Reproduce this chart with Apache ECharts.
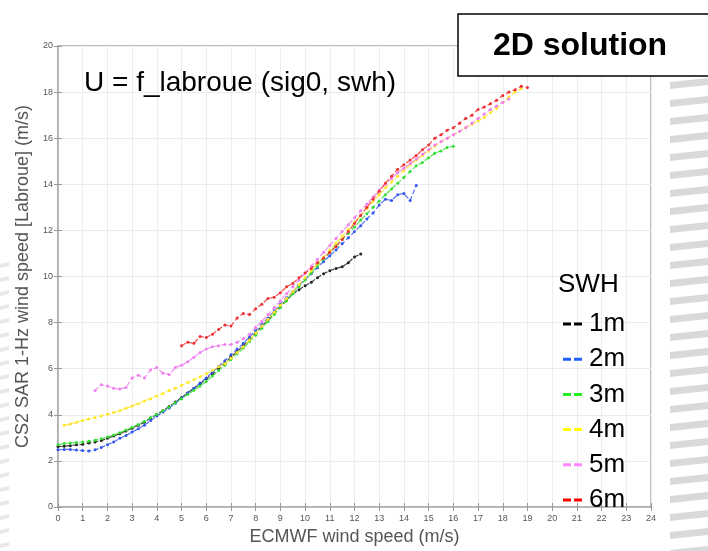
<!DOCTYPE html>
<html>
<head>
<meta charset="utf-8">
<script src="https://cdn.jsdelivr.net/npm/echarts@6/dist/echarts.min.js"></script>
<style>
  html, body { margin: 0; padding: 0; background: #fff; }
  #chart { width: 708px; height: 551px; }
</style>
</head>
<body>
<div id="chart"></div>
<script>
// ECMWF wind speed bins (m/s), 0.25 m/s apart
const ecmwfBins = [
  0, 0.25, 0.5, 0.75, 1, 1.25, 1.5, 1.75, 2, 2.25,
  2.5, 2.75, 3, 3.25, 3.5, 3.75, 4, 4.25, 4.5, 4.75,
  5, 5.25, 5.5, 5.75, 6, 6.25, 6.5, 6.75, 7, 7.25,
  7.5, 7.75, 8, 8.25, 8.5, 8.75, 9, 9.25, 9.5, 9.75,
  10, 10.25, 10.5, 10.75, 11, 11.25, 11.5, 11.75, 12, 12.25,
  12.5, 12.75, 13, 13.25, 13.5, 13.75, 14, 14.25, 14.5, 14.75,
  15, 15.25, 15.5, 15.75, 16, 16.25, 16.5, 16.75, 17, 17.25,
  17.5, 17.75, 18, 18.25, 18.5, 18.75, 19
];

const swhLabels = ['1m', '2m', '3m', '4m', '5m', '6m'];

// CS2 SAR 1-Hz wind speed [Labroue] per bin, one list per SWH class (null = empty bin)
const swh1m = [
  2.62, 2.64, 2.66, 2.70, 2.72, 2.78, 2.82, 2.88, 2.98, 3.08,
  3.18, 3.30, 3.42, 3.55, 3.68, 3.86, 4.02, 4.18, 4.36, 4.55,
  4.75, 4.95, 5.15, 5.35, 5.56, 5.78, 6.00, 6.25, 6.50, 6.75,
  7.00, 7.28, 7.55, 7.85, 8.12, 8.40, 8.70, 8.98, 9.25, 9.42,
  9.60, 9.75, 9.95, 10.12, 10.25, 10.35, 10.42, 10.60, 10.85, 10.98
];
const swh2m = [
  2.48, 2.50, 2.50, 2.47, 2.45, 2.43, 2.48, 2.58, 2.70, 2.82,
  2.98, 3.10, 3.25, 3.40, 3.55, 3.75, 3.95, 4.12, 4.30, 4.50,
  4.72, 4.95, 5.15, 5.38, 5.60, 5.85, 6.10, 6.35, 6.60, 6.85,
  7.10, 7.38, 7.65, 7.92, 8.20, 8.50, 8.80, 9.08, 9.35, 9.62,
  9.88, 10.12, 10.38, 10.65, 10.90, 11.15, 11.42, 11.68, 11.95, 12.20,
  12.50, 12.75, 13.10, 13.35, 13.30, 13.55, 13.60, 13.30, 13.95
];
const swh3m = [
  2.70, 2.75, 2.78, 2.80, 2.82, 2.85, 2.90, 2.96, 3.04, 3.12,
  3.22, 3.34, 3.46, 3.58, 3.72, 3.88, 4.02, 4.18, 4.34, 4.52,
  4.70, 4.88, 5.06, 5.25, 5.45, 5.68, 5.92, 6.15, 6.40, 6.65,
  6.90, 7.18, 7.45, 7.75, 8.05, 8.35, 8.65, 8.95, 9.25, 9.55,
  9.85, 10.15, 10.45, 10.75, 11.05, 11.32, 11.60, 11.88, 12.15, 12.45,
  12.72, 13.00, 13.28, 13.55, 13.80, 14.05, 14.30, 14.55, 14.80, 14.95,
  15.15, 15.35, 15.45, 15.60, 15.65
];
const swh4m = [
  null, 3.55, 3.60, 3.68, 3.75, 3.82, 3.88, 3.95, 4.02, 4.10,
  4.18, 4.28, 4.38, 4.48, 4.60, 4.70, 4.82, 4.92, 5.05, 5.15,
  5.28, 5.40, 5.52, 5.65, 5.78, 5.92, 6.08, 6.22, 6.45, 6.70,
  6.95, 7.25, 7.55, 7.85, 8.15, 8.45, 8.75, 9.05, 9.35, 9.65,
  9.95, 10.25, 10.55, 10.85, 11.15, 11.45, 11.75, 12.05, 12.35, 12.65,
  12.95, 13.25, 13.55, 13.85, 14.10, 14.35, 14.60, 14.85, 15.05, 15.25,
  15.45, 15.65, 15.85, 16.00, 16.15, 16.30, 16.45, 16.60, 16.75, 16.90,
  17.10, 17.30, 17.55, 17.80, 18.00, 18.15
];
const swh5m = [
  null, null, null, null, null, null, 5.05, 5.30, 5.25, 5.15,
  5.12, 5.18, 5.60, 5.72, 5.60, 5.95, 6.05, 5.80, 5.75, 6.05,
  6.15, 6.30, 6.50, 6.70, 6.85, 6.95, 7.00, 7.05, 7.05, 7.15,
  7.30, 7.50, 7.80, 8.05, 8.35, 8.65, 8.95, 9.25, 9.55, 9.85,
  10.15, 10.45, 10.75, 11.05, 11.35, 11.65, 11.95, 12.25, 12.55, 12.85,
  13.15, 13.45, 13.75, 14.00, 14.25, 14.50, 14.70, 14.90, 15.10, 15.30,
  15.50, 15.70, 15.85, 16.00, 16.15, 16.30, 16.45, 16.65, 16.85, 17.05,
  17.25, 17.40, 17.55, 17.70
];
const swh6m = [
  null, null, null, null, null, null, null, null, null, null,
  null, null, null, null, null, null, null, null, null, null,
  7.00, 7.15, 7.10, 7.40, 7.35, 7.50, 7.70, 7.90, 7.85, 8.20,
  8.40, 8.35, 8.60, 8.80, 9.05, 9.10, 9.30, 9.55, 9.70, 9.95,
  10.15, 10.35, 10.60, 10.80, 11.05, 11.30, 11.60, 11.95, 12.30, 12.65,
  13.00, 13.35, 13.70, 14.05, 14.35, 14.65, 14.85, 15.05, 15.25, 15.50,
  15.70, 16.00, 16.15, 16.35, 16.45, 16.65, 16.85, 17.00, 17.25, 17.35,
  17.50, 17.65, 17.85, 18.00, 18.10, 18.25, 18.20
];

const swhSeries = [swh1m, swh2m, swh3m, swh4m, swh5m, swh6m];
const markColors = ['#222222', '#3355ee', '#33dd33', '#ffe62a', '#f07ef0', '#ee3030'];
const keyColors  = ['#000000', '#1f5fff', '#22ee22', '#ffff00', '#ff88ff', '#ff0000'];

const FONT = '"Liberation Sans", Arial, Helvetica, sans-serif';

function pairs(values) {
  const out = [];
  values.forEach((v, i) => { if (v !== null) out.push([ecmwfBins[i], v]); });
  return out;
}

// slanted grey bands of the slide background at both edges
const bands = [];
for (let y = 78; y < 560; y += 18) {
  bands.push({
    type: 'polygon', silent: true, z: 0,
    shape: { points: [[670, y + 4], [708, y], [708, y + 7], [670, y + 11]] },
    style: { fill: '#d9d9d9' }
  });
}
for (let y = 262; y < 560; y += 14) {
  bands.push({
    type: 'polygon', silent: true, z: 0,
    shape: { points: [[0, y + 2], [9, y], [9, y + 4], [0, y + 6]] },
    style: { fill: '#e8e8e8' }
  });
}

const chart = echarts.init(document.getElementById('chart'), null, { renderer: 'canvas' });

const tickStyle = { show: true, inside: true, length: 4, lineStyle: { color: '#999' } };

const seriesList = swhLabels.map((name, k) => ({
  name: name,
  type: 'line',
  data: pairs(swhSeries[k]),
  symbol: 'circle',
  symbolSize: 3,
  showSymbol: true,
  z: 3 + k,
  itemStyle: { color: markColors[k] },
  lineStyle: { color: markColors[k], width: 1.2, type: 'dashed', opacity: 0.85 },
  emphasis: { disabled: true }
}));

chart.setOption({
  animation: false,
  backgroundColor: '#ffffff',
  textStyle: { fontFamily: FONT },
  grid: {
    left: 58, right: 57, top: 46, bottom: 37,
    show: true, backgroundColor: '#ffffff', borderColor: '#aaaaaa', borderWidth: 1.5
  },
  xAxis: [{
    type: 'value', min: 0, max: 24, interval: 1,
    name: 'ECMWF wind speed (m/s)', nameLocation: 'middle', nameGap: 21,
    nameTextStyle: { fontSize: 18, color: '#555', fontFamily: FONT },
    axisLine: { lineStyle: { color: '#aaaaaa', width: 1.5 } },
    axisTick: tickStyle,
    axisLabel: { fontSize: 9, color: '#555', margin: 7 },
    splitLine: { show: true, lineStyle: { color: '#ececec', width: 1 } }
  }, {
    type: 'value', min: 0, max: 24, interval: 1, position: 'top',
    axisLine: { show: false }, axisTick: tickStyle,
    axisLabel: { show: false }, splitLine: { show: false }
  }],
  yAxis: [{
    type: 'value', min: 0, max: 20, interval: 2,
    name: 'CS2 SAR 1-Hz wind speed [Labroue] (m/s)', nameLocation: 'middle', nameGap: 23,
    nameTextStyle: { fontSize: 18, color: '#555', fontFamily: FONT },
    axisLine: { show: true, lineStyle: { color: '#aaaaaa', width: 1.5 } },
    axisTick: tickStyle,
    axisLabel: { fontSize: 9, color: '#555', margin: 5 },
    splitLine: { show: true, lineStyle: { color: '#ececec', width: 1 } }
  }, {
    type: 'value', min: 0, max: 20, interval: 2, position: 'right',
    axisLine: { show: false }, axisTick: tickStyle,
    axisLabel: { show: false }, splitLine: { show: false }
  }],
  legend: {
    orient: 'vertical', left: 558, top: 304,
    data: swhLabels.map((name, k) => ({ name: name, itemStyle: { color: keyColors[k] } })),
    icon: 'path://M0,0h8v3h-8z M11,0h8v3h-8z',
    itemWidth: 19, itemHeight: 3, itemGap: 5.2,
    textStyle: { fontSize: 26, color: '#000', lineHeight: 30, fontFamily: FONT, padding: [0, 0, 0, 2] },
    selectedMode: false
  },
  graphic: bands.concat([
    {
      type: 'text', left: 558, top: 272, z: 10,
      style: { text: 'SWH', font: '26px ' + FONT, fill: '#000' }
    },
    {
      type: 'text', left: 84, top: 69, z: 10,
      style: { text: 'U = f_labroue (sig0, swh)', font: '28px ' + FONT, fill: '#000' }
    },
    {
      type: 'rect', z: 20,
      shape: { x: 458, y: 14, width: 262, height: 62 },
      style: { fill: '#ffffff', stroke: '#000000', lineWidth: 1.5 }
    },
    {
      type: 'text', z: 21, x: 580, y: 46,
      style: { text: '2D solution', font: 'bold 32px ' + FONT, fill: '#000',
               textAlign: 'center', textVerticalAlign: 'middle' }
    }
  ]),
  series: seriesList
});
</script>
</body>
</html>
